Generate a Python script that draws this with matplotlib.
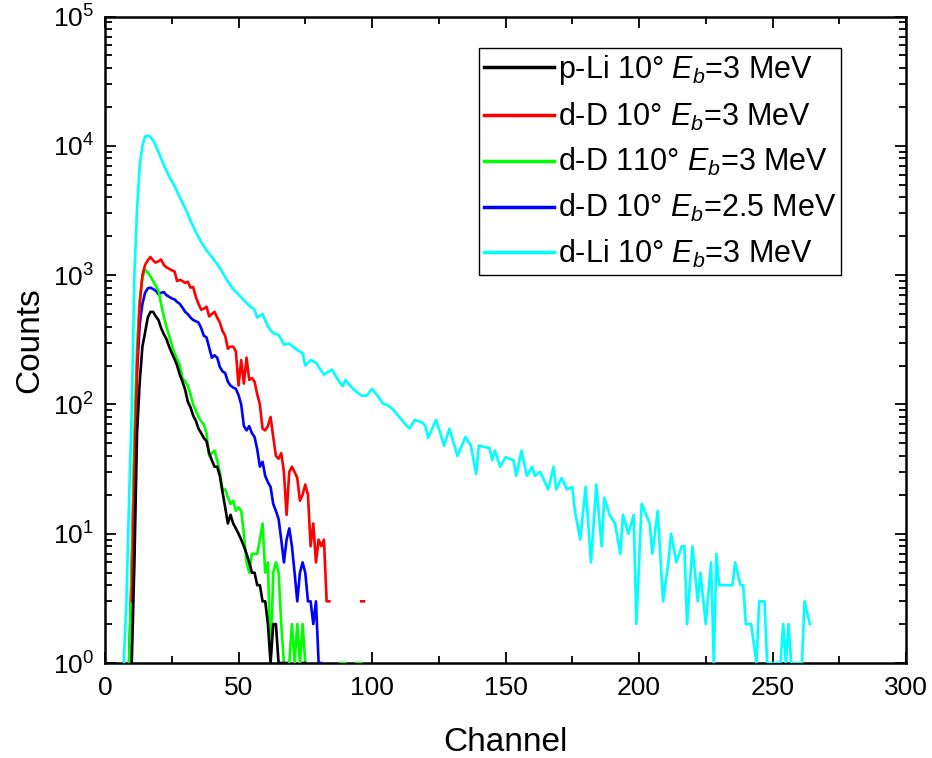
import numpy as np
import matplotlib
matplotlib.use("Agg")
import matplotlib.pyplot as plt
from matplotlib.ticker import MultipleLocator, LogLocator, NullFormatter

plt.rcParams['font.family'] = ['Liberation Sans', 'DejaVu Sans']
plt.rcParams['mathtext.fontset'] = 'custom'
plt.rcParams['mathtext.rm'] = 'Liberation Sans'
plt.rcParams['mathtext.it'] = 'Liberation Sans:italic'
plt.rcParams['mathtext.bf'] = 'Liberation Sans:bold'

nan = np.nan

# ---- data (channel, counts) ----
pLi_ch = [10, 11, 12, 13, 14, 15, 16, 17, 18, 19, 20, 21, 22, 23, 24, 25, 26, 27, 28, 29,
          30, 31, 32, 33, 34, 35, 36, 37, 38, 39, 40, 41, 42, 43, 44, 45, 46, 47, 48, 49,
          50, 51, 52, 53, 54, 55, 56, 57, 58, 59, 60, 61, 62, 63, 64, 65, 66, 67, 68, 69, 73, 74, 75]
pLi_cnt = [1, 6, 60, 150, 280, 360, 470, 520, 520, 480, 450, 390, 350, 320, 280, 250, 225, 200, 170, 150,
           130, 105, 95, 82, 75, 65, 60, 55, 52, 42, 37, 33, 33, 28, 21, 16, 12, 14, 12, 11,
           10, 9, 8, 7, 6, 5, 5, 4, 4, 3, 3, 2, 1, 2, 2, 1, 1, 1, 1, nan, nan, 1, 1]

dD10_ch = [10, 11, 12, 13, 14, 15, 16, 17, 18, 19, 20, 21, 22, 23, 24, 25, 26, 27, 28, 29,
           30, 31, 32, 33, 34, 35, 36, 37, 38, 39, 40, 41, 42, 43, 44, 45, 46, 47, 48, 49,
           50, 51, 52, 53, 54, 55, 56, 57, 58, 59, 60, 61, 62, 63, 64, 65, 66, 67, 68, 69,
           70, 71, 72, 73, 74, 75, 76, 77, 78, 79, 80, 81, 82, 83, 84, 85, 96, 97]
dD10_cnt = [3, 30, 200, 600, 1000, 1200, 1300, 1380, 1300, 1250, 1280, 1320, 1200, 1150, 1120, 1090, 1070, 900, 920, 900,
            870, 890, 800, 810, 680, 600, 540, 550, 570, 480, 500, 520, 470, 430, 370, 340, 270, 280, 280, 257,
            140, 220, 145, 230, 155, 160, 150, 120, 100, 65, 63, 68, 80, 56, 40, 38, 42, 30, 14, 30,
            33, 30, 27, 18, 20, 24, 20, 8, 12, 6, 9, 8, 9, 3, 3, nan, 3, 3]

dD110_ch = [9, 10, 11, 12, 13, 14, 15, 16, 17, 18, 19, 20, 21, 22, 23, 24, 25, 26, 27, 28, 29,
            30, 31, 32, 33, 34, 35, 36, 37, 38, 39, 40, 41, 42, 43, 44, 45, 46, 47, 48, 49,
            50, 51, 52, 53, 54, 55, 56, 57, 58, 59, 60, 61, 62, 63, 64, 65, 66, 67, 68, 69,
            70, 71, 72, 73, 74, 75, 76, 88, 89, 90, 91, 94, 95, 96]
dD110_cnt = [1, 6, 60, 280, 650, 950, 1100, 1050, 980, 900, 830, 760, 600, 480, 400, 340, 290, 250, 225, 200, 160,
             150, 140, 120, 100, 90, 80, 74, 70, 60, 40, 42, 44, 37, 30, 22, 22, 19, 17, 18, 15,
             16, 15, 10, 6, 5, 7, 7, 7, 9, 12, 5, 6, 1, 5, 6, 5, 2, 1, 1, 1,
             2, 1, 2, 1, 2, 1, nan, 1, 1, 1, nan, 1, 1, 1]

dD25_ch = [9, 10, 11, 12, 13, 14, 15, 16, 17, 18, 19, 20, 21, 22, 23, 24, 25, 26, 27, 28, 29,
           30, 31, 32, 33, 34, 35, 36, 37, 38, 39, 40, 41, 42, 43, 44, 45, 46, 47, 48, 49,
           50, 51, 52, 53, 54, 55, 56, 57, 58, 59, 60, 61, 62, 63, 64, 65, 66, 67, 68, 69,
           70, 71, 72, 73, 74, 75, 76, 77, 78, 79, 80, 81]
dD25_cnt = [1, 5, 40, 180, 420, 600, 730, 790, 800, 780, 760, 710, 730, 740, 700, 680, 660, 650, 620, 600, 560,
            520, 500, 470, 450, 440, 430, 390, 340, 330, 275, 230, 240, 230, 195, 180, 175, 150, 140, 135, 132,
            118, 100, 68, 63, 68, 60, 56, 45, 33, 36, 28, 25, 23, 17, 15, 13, 9, 6, 9, 11,
            8, 5, 3, 5, 6, 5, 3, 3, 2, 3, 1, 1]

dLi_ch = [7, 8, 9, 10, 11, 12, 13, 14, 15, 16, 17, 18, 19, 20, 21, 22, 24, 26, 28, 30,
          32, 34, 36, 38, 40, 42, 44, 46, 48, 50, 52, 54, 56, 57, 59, 61, 63, 65, 67, 69,
          72, 74, 75, 77, 79, 82, 85, 87, 89, 90, 92, 94, 96, 98, 100, 102, 104, 106, 108, 110,
          112, 114, 116, 119, 120, 121, 124, 127, 129, 132, 135, 137, 139, 140, 144, 145, 146, 148, 150, 153,
          154, 156, 158, 160, 161, 163, 166, 168, 169, 171, 173, 175, 176, 178, 180, 182, 184, 186, 187, 189,
          191, 193, 194, 196, 198, 199, 201, 204, 205, 207, 209, 211, 212, 214, 216, 217, 218, 220, 222, 223,
          225, 227, 228, 229, 230, 232, 233, 235, 236, 238, 239, 240, 242, 244, 245, 247, 248, 253, 254, 255,
          256, 257, 261, 262, 264]
dLi_cnt = [1, 3, 18, 90, 1000, 3300, 7200, 10000, 11800, 12000, 11700, 11000, 10000, 9000, 8000, 7100, 5800, 4900, 4000, 3300,
           2650, 2150, 1800, 1560, 1380, 1220, 1050, 890, 780, 710, 640, 580, 540, 470, 500, 400, 355, 345, 290, 295,
           263, 250, 200, 220, 210, 170, 186, 158, 138, 155, 138, 126, 117, 117, 132, 117, 102, 98, 91, 81,
           72, 65, 76, 72, 68, 55, 76, 48, 65, 40, 56, 48, 29, 48, 46, 37, 44, 33, 39, 37,
           28, 44, 28, 33, 28, 30, 22, 33, 22, 27, 22, 23, 15, 9, 23, 6, 24, 8, 19, 14,
           12, 7, 14, 10, 14, 2, 17, 12, 7, 15, 3, 6, 10, 6, 8, 8, 2, 8, 3, 5,
           2, 6, 1, 7, 4, 4, 4, 4, 6, 4, 4, 2, 2, 1, 3, 3, 1, 1, 2, 1,
           2, 1, 1, 3, 2]

series = [
    (pLi_ch, pLi_cnt, '#000000', 'p-Li 10° $E_b$=3 MeV'),
    (dD10_ch, dD10_cnt, '#FF0000', 'd-D 10° $E_b$=3 MeV'),
    (dD110_ch, dD110_cnt, '#00FF00', 'd-D 110° $E_b$=3 MeV'),
    (dD25_ch, dD25_cnt, '#0000FF', 'd-D 10° $E_b$=2.5 MeV'),
    (dLi_ch, dLi_cnt, '#00FFFF', 'd-Li 10° $E_b$=3 MeV'),
]

fig = plt.figure(figsize=(9.32, 7.58), dpi=100)
ax = fig.add_axes([0.1127, 0.1253, 0.8594, 0.8529])

for i, (x, y, c, lab) in enumerate(series):
    ax.plot(x, y, color=c, lw=1.9, label=lab, zorder=3 + (4 - i) * 0.1)

ax.set_yscale('log')
ax.set_xlim(0, 300)
ax.set_ylim(1, 1e5)
ax.xaxis.set_major_locator(MultipleLocator(50))
ax.xaxis.set_minor_locator(MultipleLocator(25))
ax.yaxis.set_major_locator(LogLocator(base=10, numticks=10))
ax.yaxis.set_minor_locator(LogLocator(base=10, subs=np.arange(2, 10), numticks=20))
ax.yaxis.set_minor_formatter(NullFormatter())

for s in ax.spines.values():
    s.set_linewidth(1.8)
ax.tick_params(which='both', direction='in', top=True, right=True, width=1.3)
ax.tick_params(which='major', length=8, labelsize=19)
ax.tick_params(which='minor', length=5)
ax.tick_params(axis='x', pad=9)
ax.tick_params(axis='y', pad=8)

ax.set_xlabel('Channel', fontsize=24, labelpad=20)
ax.set_ylabel('Counts', fontsize=24, labelpad=5)

leg = ax.legend(loc='upper right', bbox_to_anchor=(0.919, 0.951), fontsize=22,
                frameon=True, fancybox=False, framealpha=1, edgecolor='black',
                borderaxespad=0, borderpad=0.15, labelspacing=0.45,
                handlelength=2.3, handletextpad=0.12)
leg.get_frame().set_linewidth(1.0)
for h in leg.get_lines():
    h.set_linewidth(2.5)

fig.savefig('out.png', dpi=100)
